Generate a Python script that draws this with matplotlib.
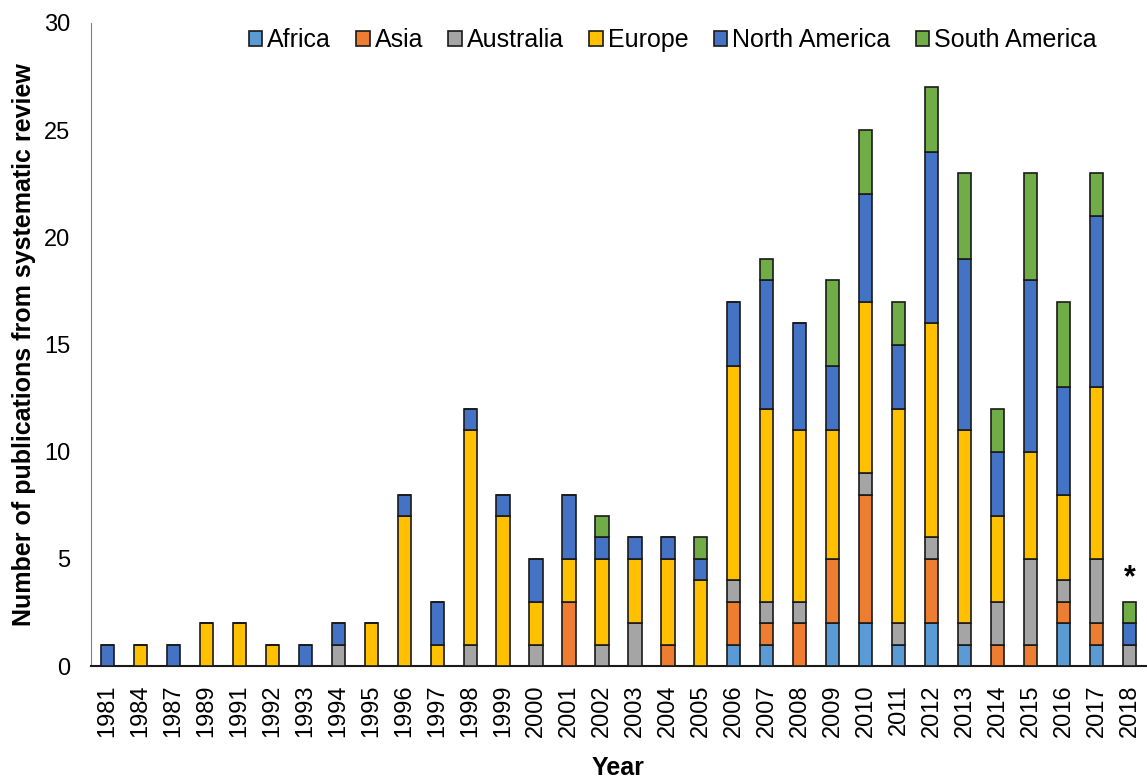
import numpy as np
import matplotlib
matplotlib.use("Agg")
import matplotlib.pyplot as plt

plt.rcParams['font.family'] = ['Liberation Sans', 'DejaVu Sans']

years = ['1981', '1984', '1987', '1989', '1991', '1992', '1993', '1994', '1995',
         '1996', '1997', '1998', '1999', '2000', '2001', '2002', '2003', '2004',
         '2005', '2006', '2007', '2008', '2009', '2010', '2011', '2012', '2013',
         '2014', '2015', '2016', '2017', '2018']

africa = [0, 0, 0, 0, 0, 0, 0, 0, 0, 0, 0, 0, 0, 0, 0, 0, 0, 0, 0,
          1, 1, 0, 2, 2, 1, 2, 1, 0, 0, 2, 1, 0]
asia = [0, 0, 0, 0, 0, 0, 0, 0, 0, 0, 0, 0, 0, 0, 3, 0, 0, 1, 0,
        2, 1, 2, 3, 6, 0, 3, 0, 1, 1, 1, 1, 0]
australia = [0, 0, 0, 0, 0, 0, 0, 1, 0, 0, 0, 1, 0, 1, 0, 1, 2, 0, 0,
             1, 1, 1, 0, 1, 1, 1, 1, 2, 4, 1, 3, 1]
europe = [0, 1, 0, 2, 2, 1, 0, 0, 2, 7, 1, 10, 7, 2, 2, 4, 3, 4, 4,
          10, 9, 8, 6, 8, 10, 10, 9, 4, 5, 4, 8, 0]
north_america = [1, 0, 1, 0, 0, 0, 1, 1, 0, 1, 2, 1, 1, 2, 3, 1, 1, 1, 1,
                 3, 6, 5, 3, 5, 3, 8, 8, 3, 8, 5, 8, 1]
south_america = [0, 0, 0, 0, 0, 0, 0, 0, 0, 0, 0, 0, 0, 0, 0, 1, 0, 0, 1,
                 0, 1, 0, 4, 3, 2, 3, 4, 2, 5, 4, 2, 1]

series = [
    ('Africa', africa, '#5B9BD5'),
    ('Asia', asia, '#ED7D31'),
    ('Australia', australia, '#A5A5A5'),
    ('Europe', europe, '#FFC000'),
    ('North America', north_america, '#4472C4'),
    ('South America', south_america, '#70AD47'),
]

fig = plt.figure(figsize=(11.47, 7.82), dpi=100)
ax = fig.add_axes([0.0793, 0.1483, 0.9198, 0.8223])

x = np.arange(len(years))
bottom = np.zeros(len(years))
for name, vals, col in series:
    vals = np.array(vals, dtype=float)
    ax.bar(x, vals, width=0.4, bottom=bottom, color=col, edgecolor='#1a1a1a',
           linewidth=1.2, label=name, zorder=3)
    bottom += vals

# asterisk on the incomplete final year
ax.text(x[-1], bottom[-1] + 0.4, '*', ha='center', va='bottom', fontsize=22,
        fontweight='bold')

ax.set_xlim(-0.5, len(years) - 0.5)
ax.set_ylim(0, 30)
ax.set_yticks(range(0, 31, 5))
ax.set_xticks(x)
ax.set_xticklabels(years, rotation=90, fontsize=17)
ax.tick_params(axis='y', labelsize=17, length=0, pad=15)
ax.tick_params(axis='x', length=0, pad=13)

for s in ['top', 'right']:
    ax.spines[s].set_visible(False)
ax.spines['left'].set_color('#808080')
ax.spines['bottom'].set_color('#1a1a1a')
ax.spines['bottom'].set_linewidth(1.5)

ax.set_ylabel('Number of publications from systematic review', fontsize=18,
              fontweight='bold', labelpad=6)
ax.set_xlabel('Year', fontsize=18, fontweight='bold', labelpad=14)

ax.legend(loc='upper right', bbox_to_anchor=(0.975, 1.027), ncol=6, frameon=False,
          fontsize=18, handlelength=0.55, handleheight=0.55, handletextpad=0.2,
          columnspacing=1.0)

fig.savefig('out.png', dpi=100)
